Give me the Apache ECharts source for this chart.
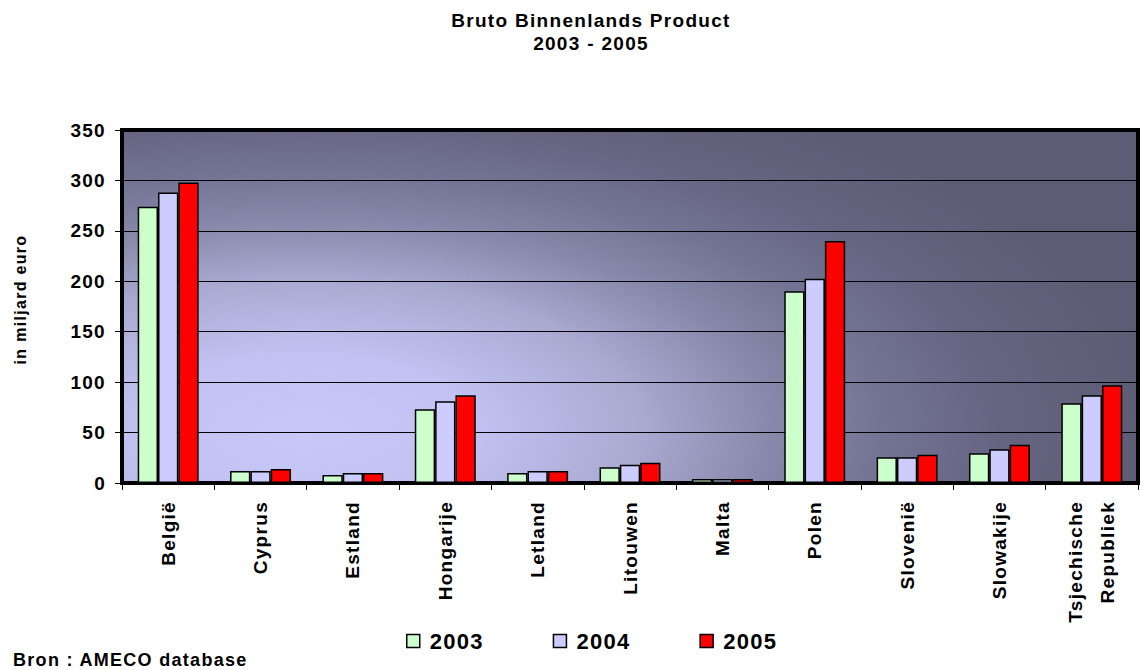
<!DOCTYPE html>
<html>
<head>
<meta charset="utf-8">
<script src="https://cdn.jsdelivr.net/npm/echarts@6/dist/echarts.min.js"></script>
<style>
  body { margin: 0; background: #fff; }
  #wrap { position: relative; width: 1142px; height: 670px; }
  /* plot area shading, sits behind the transparent chart */
  #plotBg {
    position: absolute; left: 122px; top: 130px; width: 1016px; height: 353px;
    background: radial-gradient(ellipse 850px 380px at 18% 85%,
      #c8c8f8 0%, #c2c2f2 20%, #a8a8d0 40%, #8888aa 55%, #737393 68%, #656582 82%, #5c5c74 100%);
  }
  /* excel-like wide tracking on all chart text (svg text inherits it) */
  #chart { position: absolute; left: 0; top: 0; width: 1142px; height: 670px; letter-spacing: 1.3px; }
</style>
</head>
<body>
<div id="wrap">
  <div id="plotBg"></div>
  <div id="chart"></div>
</div>
<script>
// landen
const categories = ['België', 'Cyprus', 'Estland', 'Hongarije', 'Letland', 'Litouwen', 'Malta', 'Polen', 'Slovenië', 'Slowakije', 'Tsjechische\nRepubliek']
const years = ['2003', '2004', '2005']
// BBP in miljard euro
const bbp2003 = [274, 12, 8, 73, 10, 15.5, 4, 190, 25.5, 29.5, 79]
const bbp2004 = [288, 12, 10, 81, 12, 18, 4, 202.5, 25.5, 33.5, 87]
const bbp2005 = [298, 14, 10, 87, 12, 20, 4, 240, 28, 38, 97]
const yTicks = [0, 50, 100, 150, 200, 250, 300, 350]

const font = '"Liberation Sans", Arial, sans-serif'
const colors = ['#ccffcc', '#ccccff', '#ff0000']
const seriesData = [bbp2003, bbp2004, bbp2005]

const myChart = echarts.init(document.getElementById('chart'), null, { renderer: 'svg' })

const option = {
  animation: false,
  backgroundColor: 'transparent',
  textStyle: { fontFamily: font },
  title: [
    {
      text: 'Bruto Binnenlands Product\n2003 - 2005',
      left: 591,
      textAlign: 'center',
      top: 9,
      padding: 0,
      textStyle: { fontFamily: font, fontSize: 19, fontWeight: 'bold', color: '#000', lineHeight: 23 }
    },
    {
      text: 'Bron : AMECO database',
      left: 13,
      top: 651,
      padding: 0,
      textStyle: { fontFamily: font, fontSize: 18, fontWeight: 'bold', color: '#000' }
    }
  ],
  legend: {
    data: years,
    left: 406,
    top: 630,
    padding: 0,
    icon: 'rect',
    itemWidth: 13,
    itemHeight: 13,
    itemGap: 74,
    itemStyle: { borderColor: '#000', borderWidth: 1.5 },
    textStyle: { fontFamily: font, fontSize: 22, fontWeight: 'bold', color: '#000', padding: [0, 0, 0, 5] }
  },
  grid: {
    left: 122,
    right: 4,
    top: 130,
    bottom: 187,
    containLabel: false,
    outerBoundsMode: 'none',
    show: true,
    backgroundColor: 'transparent',
    borderColor: '#000',
    borderWidth: 4
  },
  xAxis: {
    type: 'category',
    data: categories,
    axisLine: { show: true, lineStyle: { color: '#000', width: 4 } },
    axisTick: { show: true, length: 7, lineStyle: { color: '#000', width: 1 } },
    axisLabel: {
      interval: 0,
      rotate: 90,
      margin: 18,
      fontFamily: font,
      fontSize: 19,
      fontWeight: 'bold',
      color: '#000',
      lineHeight: 32
    },
    splitLine: { show: false }
  },
  yAxis: {
    type: 'value',
    min: yTicks[0],
    max: yTicks[yTicks.length - 1],
    interval: 50,
    name: 'in miljard euro',
    nameLocation: 'middle',
    nameRotate: 90,
    nameGap: 94,
    nameTextStyle: { fontFamily: font, fontSize: 16, fontWeight: 'bold', color: '#000', padding: [0, 0, 0, 14] },
    axisLine: { show: true, lineStyle: { color: '#000', width: 4 } },
    axisTick: { show: true, length: 7, lineStyle: { color: '#000', width: 1 } },
    axisLabel: { margin: 16, fontFamily: font, fontSize: 19, fontWeight: 'bold', color: '#000' },
    splitLine: { show: true, lineStyle: { color: '#000', width: 1 } }
  },
  series: years.map((y, i) => ({
    name: y,
    type: 'bar',
    data: seriesData[i],
    barGap: '0%',
    barCategoryGap: '34%',
    itemStyle: { color: colors[i], borderColor: '#000', borderWidth: 1.5 }
  }))
}

myChart.setOption(option)
</script>
</body>
</html>
